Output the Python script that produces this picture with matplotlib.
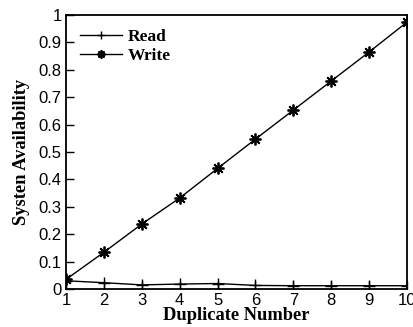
import matplotlib.pyplot as plt
import numpy as np

duplicates = [1, 2, 3, 4, 5, 6, 7, 8, 9, 10]
read_avail = [0.03, 0.023, 0.015, 0.018, 0.02, 0.013, 0.012, 0.012, 0.012, 0.012]
write_avail = [0.035, 0.134, 0.237, 0.332, 0.44, 0.547, 0.653, 0.759, 0.865, 0.974]
yticks = [0, 0.1, 0.2, 0.3, 0.4, 0.5, 0.6, 0.7, 0.8, 0.9, 1]
ytick_labels = ["0", "0.1", "0.2", "0.3", "0.4", "0.5", "0.6", "0.7", "0.8", "0.9", "1"]

fig = plt.figure(figsize=(4.13, 3.27), dpi=100)
ax = fig.add_axes([66 / 413, 1 - 289 / 327, 341 / 413, 274 / 327])

ax.plot(duplicates, read_avail, color="black", linewidth=1, marker="+",
        markersize=9, markeredgewidth=1, label="Read")
ax.plot(duplicates, write_avail, color="black", linewidth=1, marker=(8, 2, 0),
        markersize=8.5, markeredgewidth=1.3, label="Write")

ax.set_xlim(1, 10)
ax.set_ylim(0, 1)
ax.set_xticks(duplicates)
ax.set_yticks(yticks)
ax.set_yticklabels(ytick_labels)
ax.tick_params(direction="in", length=6, width=1, top=False, right=False,
               labelsize=12, pad=3)
for lbl in ax.get_xticklabels() + ax.get_yticklabels():
    lbl.set_family("Liberation Sans")
for sp in ax.spines.values():
    sp.set_linewidth(1.3)

ax.set_xlabel("Duplicate Number", family="Liberation Serif", fontweight="bold",
              fontsize=13.3, labelpad=-1)
ax.set_ylabel("Systen Availability", family="Liberation Serif", fontweight="bold",
              fontsize=13.3, labelpad=6)

leg = ax.legend(loc="upper left", frameon=False, handlelength=2.4,
                handletextpad=0.35, markerscale=0.7,
                prop={"family": "Liberation Serif", "size": 12.5, "weight": "bold"},
                borderaxespad=0.4, labelspacing=0.15)

fig.savefig("out.png", dpi=100)
